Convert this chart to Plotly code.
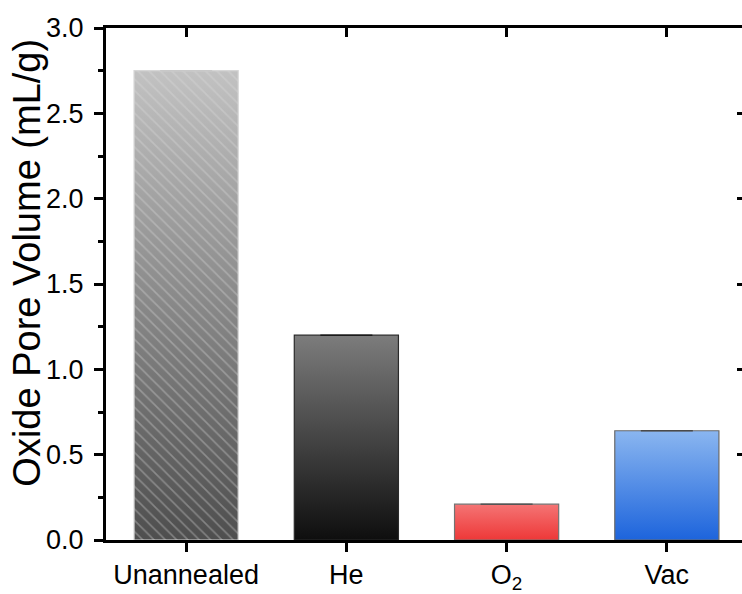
import plotly.graph_objects as go

# Oxide pore volume per annealing condition
categories = ["Unannealed", "He", "O<sub>2</sub>", "Vac"]
pore_volume = [2.75, 1.20, 0.21, 0.64]

# bar styling: (bottom colour, top colour, outline, cap colour, hatch)
bottom_colors = ["#4e4e4e", "#0e0e0e", "#ee3838", "#1d64dc"]
top_colors = ["#c2c2c2", "#7c7c7c", "#f47474", "#8ab6f0"]
outline_colors = ["#d6d6d6", "#2a2a2a", "#737373", "#6a6a6a"]
cap_colors = ["#c8c8c8", "#1a1a1a", "#555555", "#4a4a4a"]
hatches = ["\\", "", "", ""]

bar_width = 0.65
font_family = "Arial, Liberation Sans, sans-serif"
x_range = [-0.5, 3.469]
y_range = [0, 3.0]
y_title = "Oxide Pore Volume (mL/g)"

fig = go.Figure()

# gradient fills, one polygon per bar built from its value
for i, v in enumerate(pore_volume):
    x0, x1 = i - bar_width / 2, i + bar_width / 2
    fig.add_trace(go.Scatter(
        x=[x0, x1, x1, x0, x0],
        y=[0, 0, v, v, 0],
        mode="lines",
        line=dict(width=0),
        fill="toself",
        fillgradient=dict(
            type="vertical",
            colorscale=[[0, bottom_colors[i]], [1, top_colors[i]]],
        ),
        hoverinfo="skip",
        showlegend=False,
        xaxis="x", yaxis="y",
    ))

# outlines, hatch and error caps drawn above the gradients
for i, v in enumerate(pore_volume):
    fig.add_trace(go.Bar(
        x=[i],
        y=[v],
        width=bar_width,
        marker=dict(
            color="rgba(0,0,0,0)",
            line=dict(color=outline_colors[i], width=1.2),
            pattern=dict(
                shape=hatches[i],
                fgcolor="rgba(220,220,220,0.7)",
                bgcolor="rgba(0,0,0,0)",
                size=8,
                solidity=0.2,
            ),
        ),
        error_y=dict(type="data", array=[0], visible=True,
                     color=cap_colors[i], thickness=1.5, width=26),
        showlegend=False,
        xaxis="x2", yaxis="y2",
    ))

axis_font = dict(family=font_family, size=27, color="black")

fig.update_layout(
    width=742,
    height=594,
    margin=dict(l=106, r=0, t=28, b=49),
    paper_bgcolor="white",
    plot_bgcolor="white",
    barmode="overlay",
    font=dict(family=font_family, color="black"),
    xaxis=dict(
        range=x_range,
        tickmode="array",
        tickvals=list(range(len(categories))),
        ticktext=categories,
        ticks="outside",
        ticklen=9,
        tickwidth=3,
        tickcolor="black",
        showline=True,
        linewidth=3,
        linecolor="black",
        showgrid=False,
        zeroline=False,
        tickfont=axis_font,
    ),
    yaxis=dict(
        range=y_range,
        tickmode="array",
        tickvals=[0, 0.5, 1.0, 1.5, 2.0, 2.5, 3.0],
        ticktext=["0.0", "0.5", "1.0", "1.5", "2.0", "2.5", "3.0"],
        ticks="outside",
        ticklen=9,
        tickwidth=3,
        tickcolor="black",
        ticklabelstandoff=5,
        minor=dict(tickvals=[0.25, 0.75, 1.25, 1.75, 2.25, 2.75],
                   ticks="outside", ticklen=5, tickwidth=3, tickcolor="black"),
        showline=True,
        linewidth=3,
        linecolor="black",
        showgrid=False,
        zeroline=False,
        tickfont=axis_font,
    ),
    xaxis2=dict(
        range=x_range,
        overlaying="x",
        side="top",
        tickmode="array",
        tickvals=list(range(len(categories))),
        ticks="inside",
        ticklen=9,
        tickwidth=3,
        tickcolor="black",
        showticklabels=False,
        showline=True,
        linewidth=3,
        linecolor="black",
        showgrid=False,
        zeroline=False,
    ),
    yaxis2=dict(
        range=y_range,
        overlaying="y",
        side="right",
        tickmode="array",
        tickvals=[0.5, 1.0, 1.5, 2.0, 2.5],
        ticks="inside",
        ticklen=5,
        tickwidth=3,
        tickcolor="black",
        showticklabels=False,
        showline=False,
        showgrid=False,
        zeroline=False,
    ),
    annotations=[dict(
        text=y_title,
        textangle=-90,
        xref="paper", yref="paper",
        x=-0.124, y=0.542,
        xanchor="center", yanchor="middle",
        showarrow=False,
        font=dict(family=font_family, size=38, color="black"),
    )],
)

fig.write_html("out.html")
